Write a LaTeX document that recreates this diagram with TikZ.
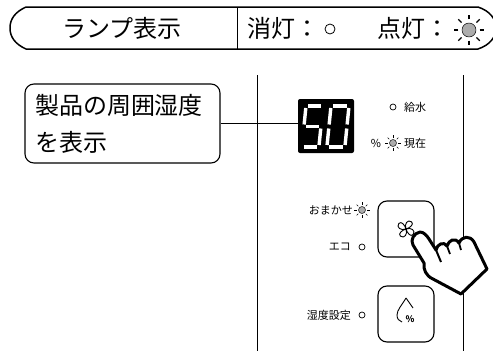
\documentclass[tikz,border=0pt]{standalone}
\usepackage{fontspec}
\setmainfont{Noto Sans CJK JP}

% 点灯ランプ (#1: 位置, #2: 倍率)
\newcommand{\lampon}[2]{%
  \begin{scope}[shift={#1}, scale=#2]
    \filldraw[fill=gray!65, line width=0.5pt] (0,0) circle (3.5);
    \foreach \a in {0,45,...,315}
      \draw[line width=#2*0.55pt] (\a:5.3) -- (\a:7.6);
  \end{scope}}

\begin{document}
\begin{tikzpicture}[x=1pt, y=-1pt, line join=round,
  btn/.style={draw, line width=1.1pt, rounded corners=9pt, minimum size=56pt, inner sep=0pt},
  small/.style={font=\fontsize{11}{13}\selectfont, inner sep=0pt},
  big/.style={font=\fontsize{24}{37}\selectfont, inner sep=0pt},
  seg/.style={white, line width=3.4pt}]
  \useasboundingbox (0,0) rectangle (493,351);

  % 1. ランプ表示の見出し
  \draw[line width=1.5pt] (26,7) -- (478,7)
    .. controls (490,11) and (496,19) .. (496,28)
    .. controls (496,37) and (490,45) .. (478,49) -- (26,49)
    .. controls (15,44) and (10,37) .. (10,28)
    .. controls (10,19) and (15,12) .. (26,7) -- cycle;
  \draw[line width=1pt] (237,7) -- (237,49);
  \node[big] (lamp) at (122,28) {ランプ表示};
  \node[big, anchor=west] (off) at (247,28) {消灯：};
  \draw[line width=0.8pt] (330,29) circle (5);
  \node[big, anchor=west] (on) at (377,28) {点灯：};
  \lampon{(469,30)}{2}

  % 2. 操作パネルの枠
  \draw[line width=1pt] (257,75) -- (257,351);
  \draw[line width=1pt] (463,75) -- (463,351);

  % 3. 湿度表示 (50)
  \node[fill=black, rounded corners=2pt, minimum width=56pt, minimum height=54pt] (disp) at (326,126) {};
  \begin{scope}[shift={(306,106)}, xslant=0.1]
    \draw[seg] (2,0) -- (15,0);  \draw[seg] (0,2) -- (0,18.5);
    \draw[seg] (2,20.5) -- (15,20.5);
    \draw[seg] (17,22.5) -- (17,39);  \draw[seg] (2,41) -- (15,41);
  \end{scope}
  \begin{scope}[shift={(331,106)}, xslant=0.1]
    \draw[seg] (2,0) -- (16,0);  \draw[seg] (2,41) -- (16,41);
    \foreach \xx in {0,18} {
      \draw[seg] (\xx,2) -- (\xx,18.5);
      \draw[seg] (\xx,22.5) -- (\xx,39);
    }
  \end{scope}

  % 吹き出し
  \node[big, draw, line width=1.1pt, rounded corners=9pt, text width=175pt, align=left,
        inner xsep=10pt, minimum height=79pt] (note) at (122.5,123.5) {製品の周囲湿度\\を表示};
  \draw[line width=1pt] (note.east) -- (note.east -| disp.west);

  % 4. 給水・現在ランプ
  \draw[line width=0.7pt] (393,107) circle (3);
  \node[small, anchor=west] (water) at (404,107) {給水};
  \node[small] (pct) at (376,143) {\%};
  \lampon{(393,143)}{1}
  \node[small, anchor=west] (now) at (404,143) {現在};

  % 5. 風量ボタン
  \node[btn] (fan) at (406,229) {};
  \begin{scope}[shift={(fan.center)}]
    \foreach \a in {45,135,225,315}
      \draw[line width=0.9pt, rotate=\a] (0,0) .. controls (2,-5) and (8.5,-6) .. (9,-1)
        .. controls (9,2.5) and (3.5,2) .. (0,0);
  \end{scope}
  \node[small, anchor=east] (auto) at (353,210) {おまかせ};
  \lampon{(362,210)}{1}
  \node[small, anchor=east] (eco) at (351,247) {エコ};
  \draw[line width=0.7pt] (362,247) circle (3);

  % 6. 湿度設定ボタン
  \node[btn] (hum) at (406,314) {};
  \draw[line width=0.9pt] (406,298) .. controls (402,305) and (397,310) .. (397,315)
    .. controls (397,319) and (399,321) .. (402,322);
  \draw[line width=0.9pt] (406,298) -- (413,308);
  \node[font=\fontsize{9}{10}\selectfont\bfseries, inner sep=0pt] (hpct) at (410,319) {\%};
  \node[small, anchor=east] (hset) at (351,315) {湿度設定};
  \draw[line width=0.7pt] (362,315) circle (3);

  % 7. 押す手
  \filldraw[fill=white, line width=3pt] (413,245)
    .. controls (410,240) and (414,233) .. (420,232)
    .. controls (424,232) and (427,236) .. (429,239) -- (436,250)
    .. controls (437,244) and (444,241) .. (447,246)
    .. controls (449,240) and (455,237) .. (459,243)
    .. controls (462,236) and (470,235) .. (474,242)
    -- (487,269) -- (461,294) -- (433,279)
    .. controls (426,276) and (423,269) .. (424,263) -- cycle;
  \draw[line width=2pt] (436,250) -- (441,262);
  \draw[line width=1.8pt] (447,246) -- (450,254);
  \draw[line width=1.8pt] (459,243) -- (461,250);
\end{tikzpicture}
\end{document}
